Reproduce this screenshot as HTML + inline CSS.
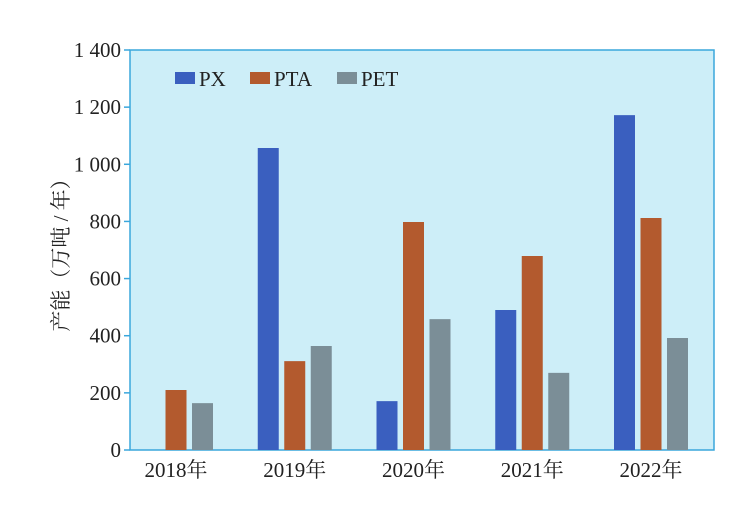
<!DOCTYPE html>
<html><head><meta charset="utf-8"><style>
body{margin:0;background:#fff;}
text{font-family:"Liberation Serif","Noto Serif CJK SC",serif;fill:#222;}
</style></head><body>
<svg width="739" height="500">
<rect x="130" y="50" width="584" height="400" fill="#cdeef8" stroke="#3aa7dc" stroke-width="1.5"/>
<g id="axes"></g>
<g id="bars"></g>
<g>
<rect x="175" y="72" width="20" height="12" fill="#3a5fbf"/>
<text x="199" y="86" font-size="21">PX</text>
<rect x="250" y="72" width="20" height="12" fill="#b35a2e"/>
<text x="274" y="86" font-size="21">PTA</text>
<rect x="337" y="72" width="20" height="12" fill="#7b8e97"/>
<text x="361" y="86" font-size="21">PET</text>
</g>
<text transform="translate(68,250) rotate(-90)" text-anchor="middle" font-size="21">产能（万吨 / 年）</text>
</svg>
<script>
const categories=["2018年","2019年","2020年","2021年","2022年"];
const pxValues=[0,1057,171,490,1172];
const ptaValues=[210,311,798,679,812];
const petValues=[164,364,458,270,392];
const yTicks=[0,200,400,600,800,1000,1200,1400];
const yTickLabels=["0","200","400","600","800","1 000","1 200","1 400"];
const NS="http://www.w3.org/2000/svg";
const y=v=>450-v*400/1400;
const xc=i=>176+118.75*i;
const axes=document.getElementById('axes'),bars=document.getElementById('bars');
function mk(tag,attrs,parent){const e=document.createElementNS(NS,tag);for(const k in attrs)e.setAttribute(k,attrs[k]);parent.appendChild(e);return e;}
yTicks.forEach((t,i)=>{
 const l=mk('line',{x1:124,x2:130,y1:y(t),y2:y(t),stroke:'#3aa7dc','stroke-width':1.5},axes);
 
 
 const tx=mk('text',{x:121,y:y(t)+7,'text-anchor':'end','font-size':21},axes);
 tx.textContent=yTickLabels[i];
 
 
});
categories.forEach((c,i)=>{
 const tx=mk('text',{x:xc(i),y:477,'text-anchor':'middle','font-size':21},axes);
 tx.textContent=c;
 
 
});
const series=[[pxValues,'#3a5fbf','px'],[ptaValues,'#b35a2e','pta'],[petValues,'#7b8e97','pet']];
series.forEach((s,j)=>{
 s[0].forEach((v,i)=>{
  if(v<=0)return;
  const r=mk('rect',{x:xc(i)+(j-1)*26.5-10.5,y:y(v),width:21,height:450-y(v),fill:s[1]},bars);
  
  
 });
});
</script>
</body></html>
